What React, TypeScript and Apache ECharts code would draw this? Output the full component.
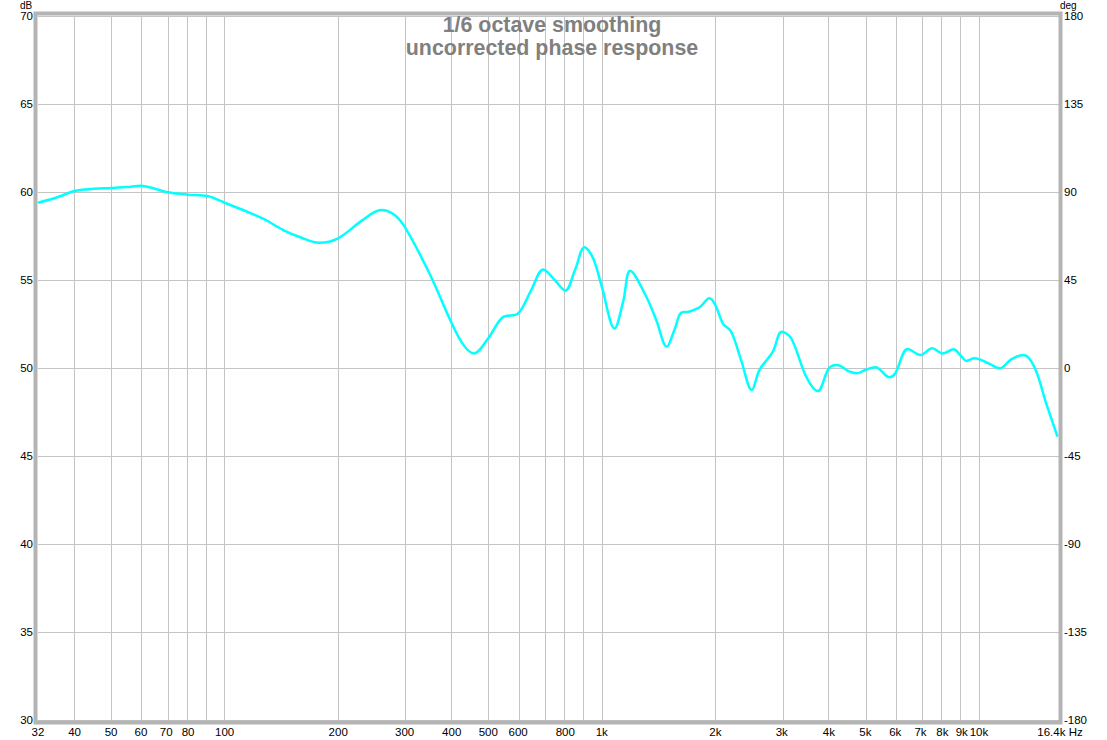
import React, { useEffect, useRef } from "react";
import * as echarts from "echarts";

const freqs = [
  32, 36, 40, 45, 50, 55, 60, 65, 70, 80, 90, 100, 126, 143, 160, 178, 200, 232, 260, 280, 300,
  349, 400, 430, 458, 500, 546, 600, 650, 700, 750, 800, 850, 900, 950, 1000, 1081, 1140, 1189,
  1312, 1394, 1487, 1560, 1624, 1700, 1816, 1930, 2000, 2093, 2203, 2341, 2498, 2619, 2841, 3000,
  3178, 3484, 3738, 4000, 4199, 4538, 4750, 5000, 5318, 5792, 6000, 6474, 7000, 7516, 8000, 8561,
  9000, 9252, 9731, 10666, 11335, 12177, 13128, 14036, 15074, 16150,
];
const splValues = [
  59.39, 59.7, 60.06, 60.18, 60.23, 60.28, 60.36, 60.2, 60.0, 59.85, 59.77, 59.39, 58.5, 57.84,
  57.4, 57.12, 57.37, 58.4, 58.98, 58.75, 58.03, 55.38, 52.54, 51.3, 50.83, 51.69, 52.88, 53.1,
  54.43, 55.6, 55.0, 54.4, 55.6, 56.86, 56.2, 54.62, 52.25, 53.8, 55.53, 54.05, 52.73, 51.21,
  52.2, 53.14, 53.2, 53.45, 53.96, 53.58, 52.54, 52.06, 50.45, 48.75, 49.89, 50.93, 52.06, 51.69,
  49.5, 48.69, 49.98, 50.17, 49.79, 49.7, 49.89, 50.04, 49.47, 49.7, 51.08, 50.74, 51.12, 50.83,
  51.06, 50.64, 50.4, 50.55, 50.23, 49.98, 50.49, 50.74, 50.04, 47.99, 46.1,
];
const xLabelFreqs = [
  32, 40, 50, 60, 70, 80, 100, 200, 300, 400, 500, 600, 800, 1000, 2000, 3000, 4000, 5000, 6000,
  7000, 8000, 9000, 10000, 16400,
];
const gridFreqs = [
  40, 50, 60, 70, 80, 90, 100, 200, 300, 400, 500, 600, 700, 800, 900, 1000, 2000, 3000, 4000,
  5000, 6000, 7000, 8000, 9000, 10000,
];
const fMin = 32;
const fMax = 16400;
const dbMin = 30;
const dbMax = 70;
const degMin = -180;
const degMax = 180;
const titleText = "1/6 octave smoothing\nuncorrected phase response";

const FONT = "Liberation Sans, Arial, sans-serif";

export default function App() {
  const ref = useRef<HTMLDivElement>(null);
  useEffect(() => {
    if (!ref.current) return;
    const chart = echarts.init(ref.current, null, { renderer: "svg" });
    const fmt = (v: number) => {
      const f = Math.round(Math.pow(10, v) * 10) / 10;
      if (Math.abs(f - fMax) < 1) return "16.4k Hz";
      if (f >= 1000) return Math.round(f / 100) / 10 + "k";
      return String(Math.round(f));
    };
    chart.setOption({
      animation: false,
      backgroundColor: "#ffffff",
      title: {
        text: titleText,
        left: 552,
        textAlign: "center",
        top: 13,
        padding: 0,
        textStyle: {
          fontFamily: FONT,
          fontSize: 21.4,
          fontWeight: "bold",
          color: "#808080",
          lineHeight: 23,
        },
        z: 10,
      },
      grid: { left: 38, right: 47, top: 16, bottom: 20, containLabel: false },
      xAxis: {
        type: "value",
        min: Math.log10(fMin),
        max: Math.log10(fMax),
        axisLine: { show: false },
        axisTick: { show: false },
        splitLine: { show: false },
        axisLabel: {
          customValues: xLabelFreqs.map((f) => Math.log10(f)),
          formatter: fmt,
          color: "#000",
          fontFamily: FONT,
          fontSize: 11.5,
          margin: 6,
          showMinLabel: true,
          showMaxLabel: true,
        },
      },
      yAxis: [
        {
          type: "value",
          min: dbMin,
          max: dbMax,
          interval: 5,
          position: "left",
          axisLine: { show: false },
          axisTick: { show: false },
          splitLine: { show: true, lineStyle: { color: "#c4c4c4", width: 1 } },
          axisLabel: { color: "#000", fontFamily: FONT, fontSize: 11.5, margin: 5 },
        },
        {
          type: "value",
          min: degMin,
          max: degMax,
          interval: 45,
          position: "right",
          axisLine: { show: false },
          axisTick: { show: false },
          splitLine: { show: false },
          axisLabel: { color: "#000", fontFamily: FONT, fontSize: 11.5, margin: 4 },
        },
      ],
      graphic: [
        {
          type: "rect",
          shape: { x: 35.5, y: 13.5, width: 1025, height: 709 },
          style: { fill: "none", stroke: "#b4b4b4", lineWidth: 4 },
          z: 20,
          silent: true,
        },
        {
          type: "text",
          x: 20,
          y: 0,
          style: {
            text: "dB",
            font: `10px ${FONT}`,
            fill: "#000",
            verticalAlign: "top",
            lineHeight: 10,
          },
          z: 20,
        },
        {
          type: "text",
          x: 1060,
          y: 0,
          style: {
            text: "deg",
            font: `10px ${FONT}`,
            fill: "#000",
            verticalAlign: "top",
            lineHeight: 10,
          },
          z: 20,
        },
      ],
      series: [
        {
          type: "line",
          data: [],
          z: 1,
          silent: true,
          markLine: {
            silent: true,
            symbol: ["none", "none"],
            label: { show: false },
            lineStyle: { color: "#c4c4c4", width: 1, type: "solid" },
            data: gridFreqs.map((f) => ({ xAxis: Math.log10(f) })),
          },
        },
        {
          type: "line",
          z: 5,
          data: freqs.map((f, i) => [Math.log10(f), splValues[i]]),
          showSymbol: false,
          smooth: 0.35,
          lineStyle: { color: "#00ffff", width: 2.5 },
          itemStyle: { color: "#00ffff" },
        },
      ],
    });
    return () => chart.dispose();
  }, []);
  return (
    <div
      ref={ref}
      style={{ position: "fixed", left: 0, top: 0, width: 1107, height: 740 }}
    />
  );
}
